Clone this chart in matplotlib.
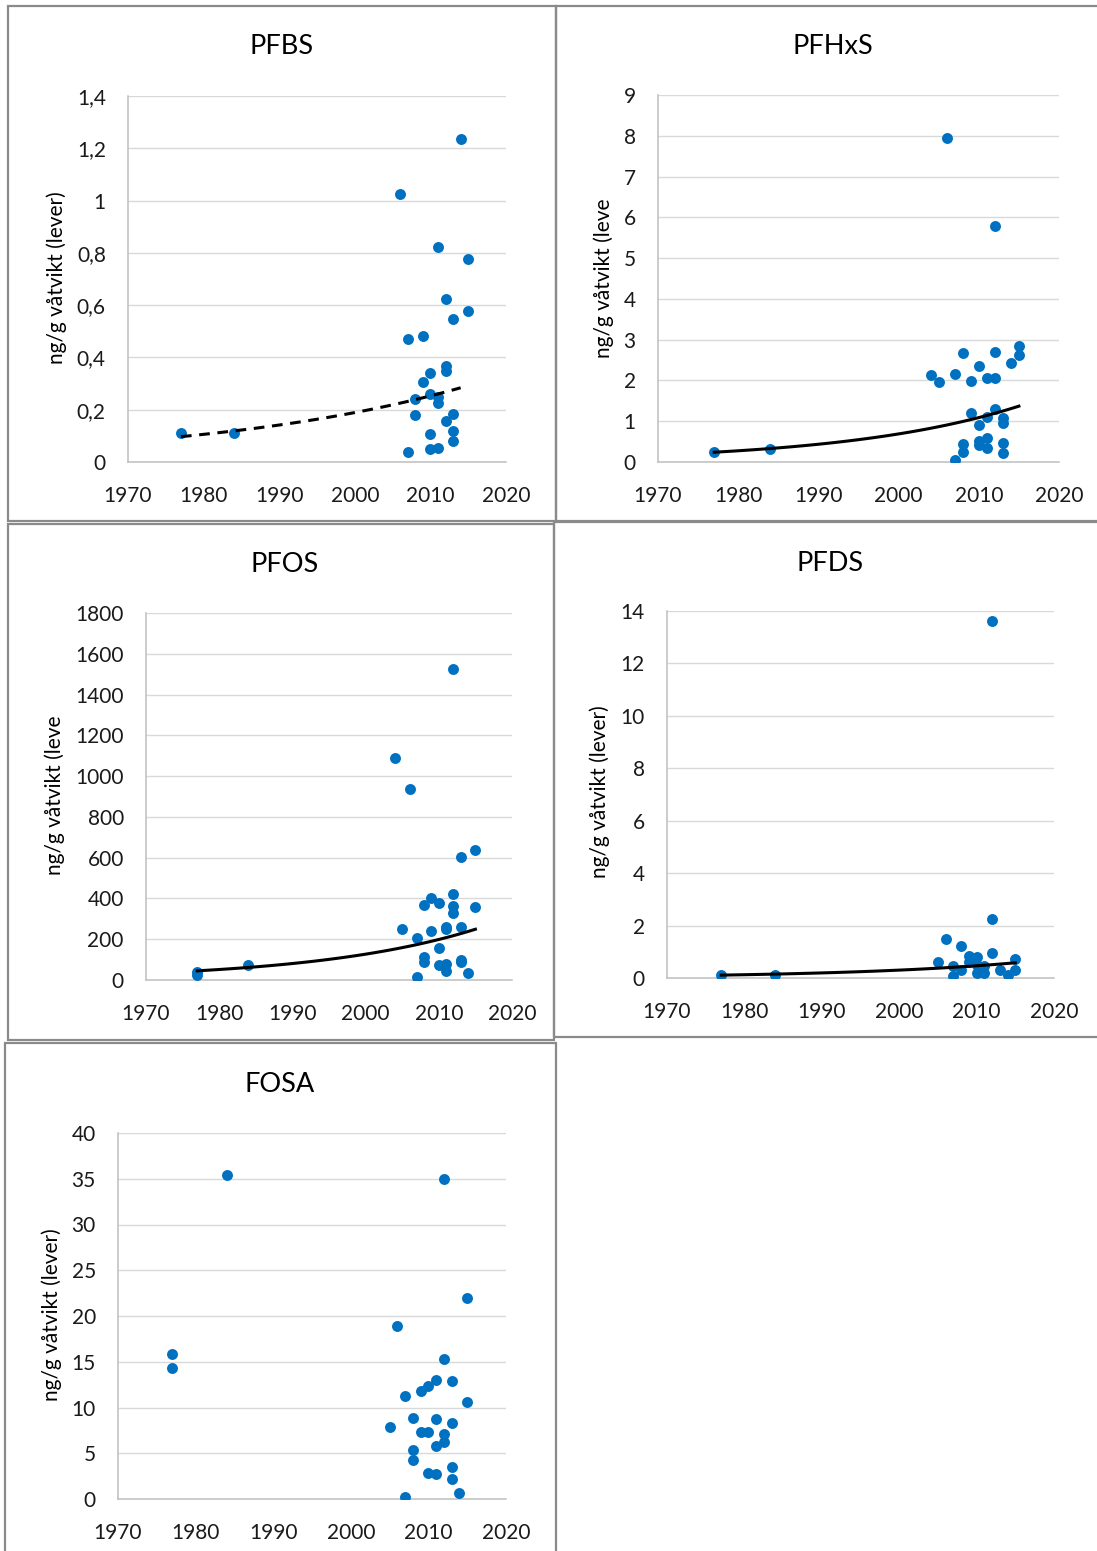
import numpy as np
import matplotlib
matplotlib.use("Agg")
import matplotlib.pyplot as plt
from matplotlib.patches import Rectangle
from matplotlib.ticker import FuncFormatter

plt.rcParams['font.family'] = ['Lato', 'DejaVu Sans']

W, H = 1097, 1551

# ---------------- data ----------------
pfbs_years = [1977, 1984, 2006, 2014, 2011, 2015, 2012, 2015, 2013, 2007, 2009, 2012, 2012, 2010,
              2009, 2010, 2011, 2011, 2008, 2008, 2013, 2012, 2013, 2013, 2010, 2007, 2010, 2011]
pfbs_values = [0.11, 0.11, 1.025, 1.236, 0.824, 0.775, 0.622, 0.578, 0.546, 0.469, 0.482, 0.369, 0.349, 0.342,
               0.305, 0.260, 0.247, 0.227, 0.240, 0.181, 0.184, 0.157, 0.119, 0.082, 0.106, 0.038, 0.049, 0.052]
pfbs_trend_years = [1977, 2014]
pfbs_trend_values = [0.097, 0.284]

pfhxs_years = [1977, 1984, 2006, 2012, 2015, 2015, 2012, 2008, 2014, 2010, 2004, 2005, 2007, 2009,
               2011, 2012, 2009, 2012, 2011, 2013, 2013, 2010, 2008, 2008, 2010, 2010, 2011, 2011, 2013, 2013, 2007]
pfhxs_values = [0.25, 0.33, 7.95, 5.79, 2.84, 2.63, 2.69, 2.67, 2.44, 2.35, 2.13, 1.96, 2.16, 1.99,
                2.05, 2.05, 1.19, 1.29, 1.11, 1.07, 0.96, 0.91, 0.43, 0.24, 0.52, 0.42, 0.58, 0.34, 0.46, 0.23, 0.05]
pfhxs_trend_years = [1977, 2015]
pfhxs_trend_values = [0.24, 1.37]

pfos_years = [1977, 1977, 1984, 2012, 2004, 2006, 2013, 2015, 2009, 2008, 2010, 2012, 2012, 2012, 2015,
              2005, 2007, 2009, 2011, 2011, 2013, 2010, 2008, 2008, 2013, 2013, 2010, 2011, 2011, 2007, 2014]
pfos_values = [40, 25, 75, 1525, 1090, 937, 603, 639, 404, 368, 379, 420, 364, 330, 358,
               252, 208, 240, 261, 252, 258, 155, 114, 88, 98, 88, 74, 78, 46, 13, 33]
pfos_trend_years = [1977, 2015]
pfos_trend_values = [45, 249]

pfds_years = [1977, 1984, 2012, 2012, 2006, 2008, 2005, 2009, 2010, 2012, 2015, 2007, 2008, 2007,
              2010, 2011, 2011, 2013, 2014, 2015, 2009, 2010]
pfds_values = [0.10, 0.12, 13.6, 2.24, 1.48, 1.22, 0.62, 0.84, 0.79, 0.97, 0.74, 0.46, 0.31, 0.08,
               0.18, 0.46, 0.18, 0.31, 0.11, 0.31, 0.62, 0.50]
pfds_trend_years = [1977, 2015]
pfds_trend_values = [0.11, 0.58]

fosa_years = [1977, 1977, 1984, 2012, 2015, 2006, 2012, 2011, 2013, 2010, 2009, 2007, 2015, 2005, 2008,
              2011, 2013, 2009, 2010, 2012, 2012, 2011, 2008, 2008, 2010, 2011, 2013, 2013, 2014, 2007]
fosa_values = [15.8, 14.3, 35.4, 35.0, 22.0, 18.9, 15.3, 13.0, 12.9, 12.3, 11.8, 11.3, 10.6, 7.9, 8.9,
               8.7, 8.3, 7.3, 7.3, 7.1, 6.2, 5.8, 5.4, 4.3, 2.8, 2.7, 3.5, 2.2, 0.7, 0.25]

x_ticks = [1970, 1980, 1990, 2000, 2010, 2020]

ylabel_full = "ng/g våtvikt (lever)"
ylabel_cut = "ng/g våtvikt (leve"

panels = [
    dict(name="PFBS", x=pfbs_years, y=pfbs_values, ymax=1.4, ystep=0.2, trend="--",
         tx=pfbs_trend_years, ty=pfbs_trend_values, ylabel=ylabel_full,
         box=(128, 96, 506, 462), title=(282, 47), ylab=(57, 278), border=(8, 6, 556, 521), decimals=True),
    dict(name="PFHxS", x=pfhxs_years, y=pfhxs_values, ymax=9, ystep=1, trend="-",
         tx=pfhxs_trend_years, ty=pfhxs_trend_values, ylabel=ylabel_cut,
         box=(658, 95, 1059, 462), title=(833, 47), ylab=(604, 278), border=(556, 6, 1100, 521), decimals=False),
    dict(name="PFOS", x=pfos_years, y=pfos_values, ymax=1800, ystep=200, trend="-",
         tx=pfos_trend_years, ty=pfos_trend_values, ylabel=ylabel_cut,
         box=(146, 613, 512, 980), title=(285, 565), ylab=(55, 795), border=(8, 524, 554, 1040), decimals=False),
    dict(name="PFDS", x=pfds_years, y=pfds_values, ymax=14, ystep=2, trend="-",
         tx=pfds_trend_years, ty=pfds_trend_values, ylabel=ylabel_full,
         box=(667, 611, 1054, 978), title=(830, 563), ylab=(600, 792), border=(554, 522, 1100, 1037), decimals=False),
    dict(name="FOSA", x=fosa_years, y=fosa_values, ymax=40, ystep=5, trend=None, tx=None, ty=None,
         ylabel=ylabel_full,
         box=(118, 1133, 506, 1499), title=(280, 1084), ylab=(52, 1315), border=(5, 1043, 556, 1555), decimals=False),
]

fig = plt.figure(figsize=(W / 100, H / 100), dpi=100)
fig.patch.set_facecolor("white")


def fx(px):
    return px / W


def fy(py):
    return 1 - py / H


for p in panels:
    bx0, by0, bx1, by1 = p["border"]
    fig.patches.append(Rectangle((fx(bx0), fy(by1)), fx(bx1 - bx0), (by1 - by0) / H,
                                 transform=fig.transFigure, fill=False,
                                 edgecolor="#8a8a8a", linewidth=1.6, zorder=0))
    x0, y0, x1, y1 = p["box"]
    ax = fig.add_axes([fx(x0), fy(y1), (x1 - x0) / W, (y1 - y0) / H])
    ax.set_xlim(1970, 2020)
    ax.set_ylim(0, p["ymax"])
    ax.set_xticks(x_ticks)
    yt = np.arange(0, p["ymax"] + p["ystep"] / 2, p["ystep"])
    ax.set_yticks(yt)
    if p["decimals"]:
        ax.yaxis.set_major_formatter(FuncFormatter(lambda v, _: ("%g" % round(v, 2)).replace(".", ",")))
    else:
        ax.yaxis.set_major_formatter(FuncFormatter(lambda v, _: "%d" % round(v)))
    ax.grid(axis="y", color="#d9d9d9", linewidth=1.0)
    ax.set_axisbelow(True)
    for s in ["right", "top"]:
        ax.spines[s].set_visible(False)
    for s in ["bottom", "left"]:
        ax.spines[s].set_color("#bfbfbf")
        ax.spines[s].set_linewidth(1.1)
    ax.tick_params(length=0, labelsize=15, colors="#1a1a1a")
    ax.tick_params(axis="y", pad=16)
    ax.tick_params(axis="x", pad=17)
    ax.scatter(p["x"], p["y"], s=62, color="#0070C0", zorder=3, linewidths=0)
    if p["trend"] is not None:
        t0, t1 = p["tx"]
        v0, v1 = p["ty"]
        xt = np.linspace(t0, t1, 100)
        yt_curve = v0 * (v1 / v0) ** ((xt - t0) / (t1 - t0))
        kw = dict(color="black", linewidth=2.2, zorder=4)
        if p["trend"] == "--":
            ax.plot(xt, yt_curve, linestyle=(0, (3.5, 2.5)), **kw)
        else:
            ax.plot(xt, yt_curve, linestyle="-", **kw)
    fig.text(fx(p["title"][0]), fy(p["title"][1]), p["name"], fontsize=19.5, ha="center", va="center")
    fig.text(fx(p["ylab"][0]), fy(p["ylab"][1]), p["ylabel"], fontsize=15, rotation=90,
             ha="center", va="center")

fig.savefig("out.png", dpi=100, facecolor="white")
